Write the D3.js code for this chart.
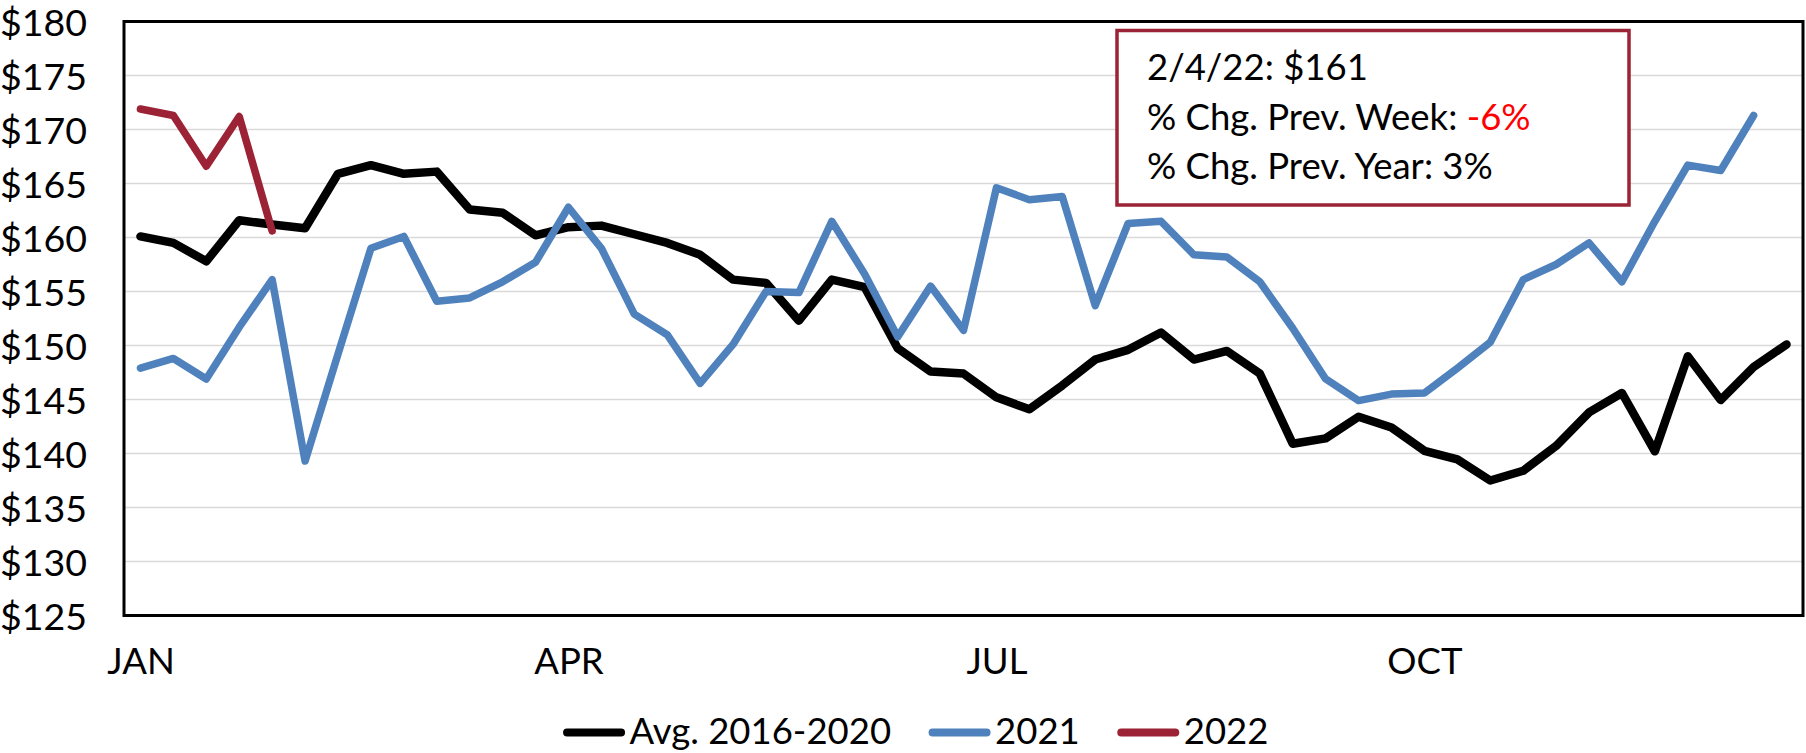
<!DOCTYPE html>
<html><head><meta charset="utf-8">
<script src="https://cdn.jsdelivr.net/npm/d3@7"></script>
<style>
body{margin:0;background:#fff;overflow:hidden}
text{font-family:Lato, "Open Sans", sans-serif;fill:#000}
</style>
</head><body>
<svg id="chart" width="1806" height="753"></svg>
<script>
// ---- data ----
const weeks = d3.range(1, 52); // 51 weekly categories
const monthLabels = ["JAN", "APR", "JUL", "OCT"];
const monthWeeks = [1, 14, 27, 40];
const yTicks = d3.range(125, 181, 5);

const avg2016_2020 = [160.1,159.5,157.8,161.6,161.2,160.85,165.9,166.7,165.9,166.1,
  162.6,162.3,160.2,160.95,161.1,160.3,159.5,158.4,156.1,155.8,
  152.3,156.1,155.4,149.75,147.6,147.4,145.2,144.1,146.3,148.7,
  149.6,151.2,148.7,149.5,147.4,140.9,141.4,143.4,142.4,140.25,
  139.45,137.5,138.4,140.7,143.8,145.6,140.2,149.0,144.95,148.0,150.1];
const y2021 = [147.9,148.8,146.9,151.7,156.1,139.3,149.2,159.0,160.1,154.1,
  154.4,155.9,157.7,162.8,159.0,152.9,151.0,146.5,150.1,155.0,
  154.9,161.5,156.6,150.8,155.5,151.4,164.6,163.5,163.8,153.7,
  161.3,161.5,158.4,158.2,155.9,151.6,146.9,144.9,145.5,145.6,
  147.9,150.3,156.1,157.5,159.5,155.9,161.5,166.7,166.2,171.3];
const y2022 = [171.9,171.3,166.6,171.2,160.6];

const seriesNames = ["Avg. 2016-2020", "2021", "2022"];
const seriesColors = ["#000000", "#4F81BD", "#9B2335"];
const seriesData = [avg2016_2020, y2021, y2022];

const noteLines = [
  [{t: "2/4/22: $161"}],
  [{t: "% Chg. Prev. Week: "}, {t: "-6%", red: true}],
  [{t: "% Chg. Prev. Year: 3%"}]
];

// ---- layout ----
const svg = d3.select("#chart");
const plot = {left: 124, right: 1803, top: 21.5, bottom: 615.5};
const fs = 36.5;

svg.append("rect").attr("width", 1806).attr("height", 753).attr("fill", "#fff");

const x = d3.scalePoint().domain(weeks).range([plot.left, plot.right]).padding(0.5);
const y = d3.scaleLinear().domain([125, 180]).range([plot.bottom, plot.top]);

// gridlines
svg.append("g").selectAll("line")
  .data(yTicks.filter(v => v > 125 && v < 180))
  .join("line")
  .attr("x1", plot.left).attr("x2", plot.right)
  .attr("y1", d => y(d)).attr("y2", d => y(d))
  .attr("stroke", "#d9d9d9").attr("stroke-width", 1.6);

// y axis labels
const yAxis = svg.append("g")
  .attr("transform", `translate(${plot.left},0)`)
  .call(d3.axisLeft(y).tickValues(yTicks).tickFormat(d => "$" + d).tickSize(0).tickPadding(37));
yAxis.select(".domain").remove();
yAxis.selectAll("text").attr("font-size", fs + 1).attr("font-family", "Lato").attr("dy", "0.36em");

// x axis labels
const xAxis = svg.append("g")
  .attr("transform", `translate(0,${plot.bottom})`)
  .call(d3.axisBottom(x).tickValues(monthWeeks).tickFormat((d, i) => monthLabels[i]).tickSize(0).tickPadding(33));
xAxis.select(".domain").remove();
xAxis.selectAll("text").attr("font-size", fs).attr("font-family", "Lato");

// frame
svg.append("rect")
  .attr("x", plot.left).attr("y", plot.top)
  .attr("width", plot.right - plot.left).attr("height", plot.bottom - plot.top)
  .attr("fill", "none").attr("stroke", "#000").attr("stroke-width", 3);

// annotation box
const box = {x: 1117, y: 30.5, w: 512, h: 174.5};
svg.append("rect")
  .attr("x", box.x).attr("y", box.y).attr("width", box.w).attr("height", box.h)
  .attr("fill", "#fff").attr("stroke", seriesColors[2]).attr("stroke-width", 3.5);
const noteBaselines = [80, 130, 179];
noteLines.forEach((parts, i) => {
  const t = svg.append("text").attr("x", box.x + 30).attr("y", noteBaselines[i]).attr("font-size", fs);
  parts.forEach(p => t.append("tspan").text(p.t).style("fill", p.red ? "#FF0000" : "#000"));
});

// series lines
const line = d3.line().x((d, i) => x(weeks[i])).y(d => y(d));
seriesData.forEach((data, k) => {
  svg.append("path").datum(data)
    .attr("d", line)
    .attr("fill", "none")
    .attr("stroke", seriesColors[k])
    .attr("stroke-width", k === 0 ? 8.5 : 7.5)
    .attr("stroke-linejoin", "round")
    .attr("stroke-linecap", "round");
});

// legend (measured, centered)
const legY = 732.5, lineLen = 54, lineGap = 5, entryGap = 38, legCenter = 916;
const leg = svg.append("g");
const entries = seriesNames.map((name, k) => {
  const g = leg.append("g");
  g.append("line").attr("x1", 3.5).attr("x2", 3.5 + lineLen).attr("y1", legY).attr("y2", legY)
    .attr("stroke", seriesColors[k]).attr("stroke-width", 8).attr("stroke-linecap", "round");
  const t = g.append("text").attr("x", 7 + lineLen + lineGap).attr("y", legY + 11.5).attr("font-size", fs).text(name);
  return {g, w: 7 + lineLen + lineGap + t.node().getComputedTextLength()};
});
const total = d3.sum(entries, e => e.w) + entryGap * (entries.length - 1);
let cx = legCenter - total / 2;
entries.forEach(e => { e.g.attr("transform", `translate(${cx},0)`); cx += e.w + entryGap; });
</script>
</body></html>
